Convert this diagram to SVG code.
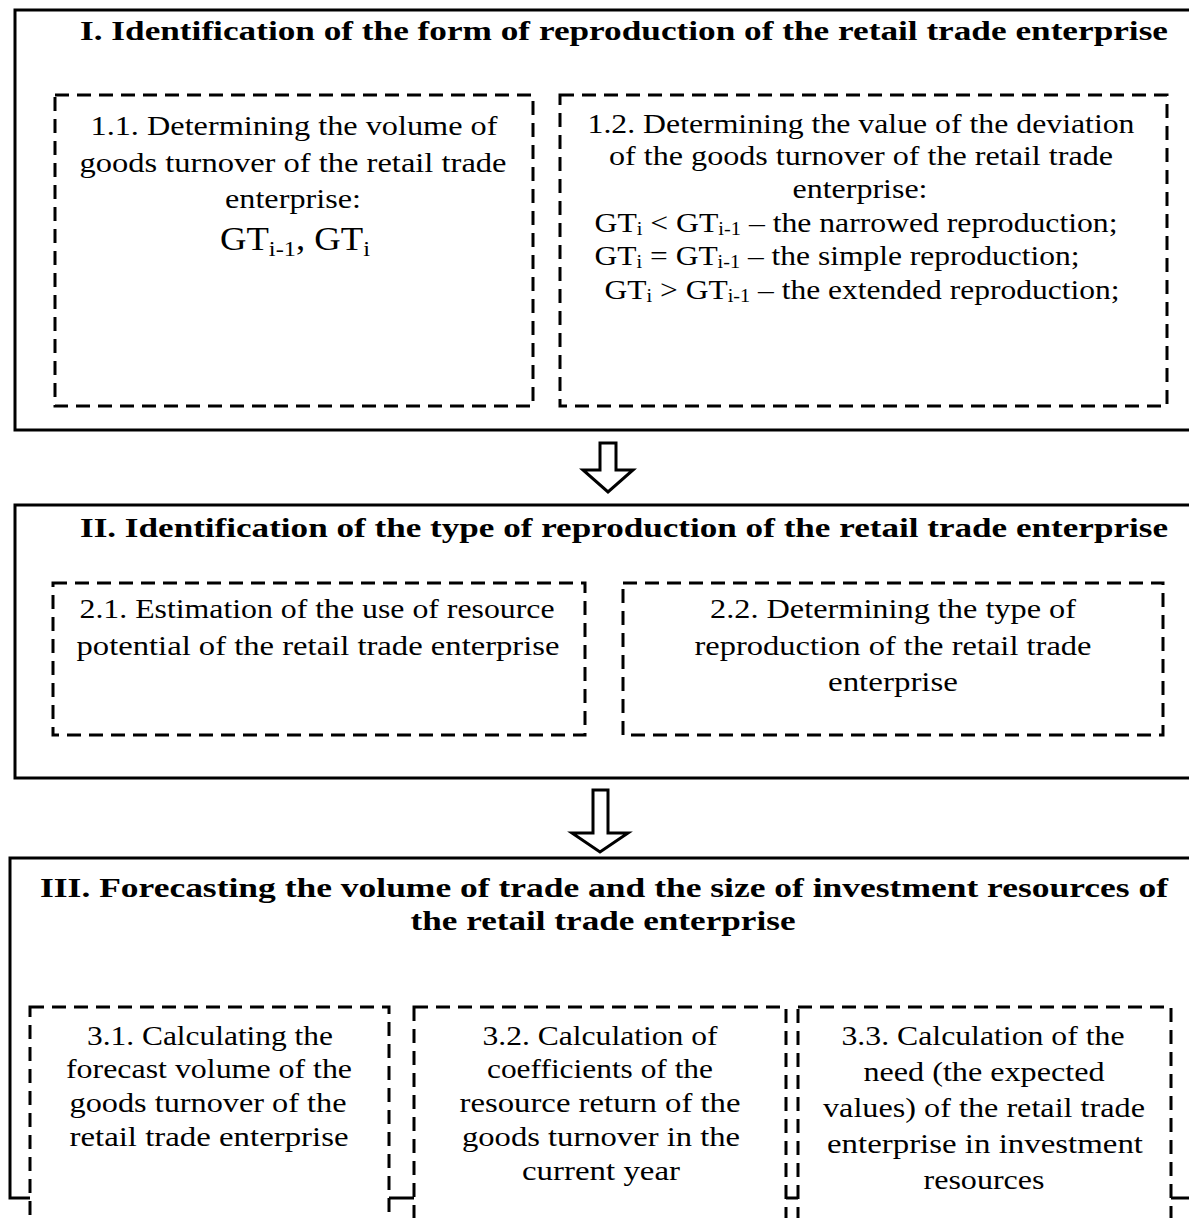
<svg xmlns="http://www.w3.org/2000/svg" width="1189" height="1218" viewBox="0 0 1189 1218">
<style>
.outer{fill:#fff;stroke:#000;stroke-width:3}
.dash{fill:#fff;stroke:#000;stroke-width:3;stroke-dasharray:14 8}
.t{font-family:"Liberation Serif","Times New Roman",serif;font-size:28px;fill:#000;text-anchor:middle}
.h{font-family:"Liberation Serif","Times New Roman",serif;font-size:28px;font-weight:bold;fill:#000}
.arr{fill:#fff;stroke:#000;stroke-width:3;stroke-linejoin:miter}
.sub{font-size:18px}
</style>
<rect width="1189" height="1218" fill="#fff"/>

<g id="stage1">
<rect class="outer" x="15" y="10" width="1190" height="420"/>
<text class="h" x="80" y="40" textLength="1088" lengthAdjust="spacingAndGlyphs">I. Identification  of the form  of reproduction  of the retail trade enterprise</text>
</g>
<g id="node11">
<rect class="dash" x="55" y="95" width="478" height="311"/>
<text class="t" x="294" y="135" textLength="407" lengthAdjust="spacingAndGlyphs">1.1. Determining the volume of</text>
<text class="t" x="293" y="172" textLength="427" lengthAdjust="spacingAndGlyphs">goods turnover of the retail trade</text>
<text class="t" x="293" y="208" textLength="136" lengthAdjust="spacingAndGlyphs">enterprise:</text>
<text class="t" x="295" y="250" style="font-size:33px" textLength="150" lengthAdjust="spacingAndGlyphs">GT<tspan style="font-size:22px" dy="6">i-1</tspan><tspan dy="-6">, GT</tspan><tspan style="font-size:22px" dy="6">i</tspan></text>
</g>
<g id="node12">
<rect class="dash" x="560" y="95" width="607" height="311"/>
<text class="t" x="861" y="133" textLength="547" lengthAdjust="spacingAndGlyphs">1.2. Determining the value of the deviation</text>
<text class="t" x="861" y="165" textLength="504" lengthAdjust="spacingAndGlyphs">of the goods turnover of the retail trade</text>
<text class="t" x="860" y="198" textLength="135" lengthAdjust="spacingAndGlyphs">enterprise:</text>
<text class="t" x="856" y="232" textLength="523" lengthAdjust="spacingAndGlyphs">GT<tspan class="sub" dy="3">i</tspan><tspan dy="-3"> &lt; GT</tspan><tspan class="sub" dy="3">i-1</tspan><tspan dy="-3"> – the narrowed reproduction;</tspan></text>
<text class="t" x="837" y="265" textLength="485" lengthAdjust="spacingAndGlyphs">GT<tspan class="sub" dy="3">i</tspan><tspan dy="-3"> = GT</tspan><tspan class="sub" dy="3">i-1</tspan><tspan dy="-3"> – the simple reproduction;</tspan></text>
<text class="t" x="862" y="299" textLength="515" lengthAdjust="spacingAndGlyphs">GT<tspan class="sub" dy="3">i</tspan><tspan dy="-3"> &gt; GT</tspan><tspan class="sub" dy="3">i-1</tspan><tspan dy="-3"> – the extended reproduction;</tspan></text>
</g>

<g id="stage2">
<rect class="outer" x="15" y="505" width="1190" height="273"/>
<text class="h" x="80" y="537" textLength="1088" lengthAdjust="spacingAndGlyphs">II. Identification  of the type of reproduction  of the retail trade enterprise</text>
</g>
<g id="node21">
<rect class="dash" x="53" y="583" width="532" height="152"/>
<text class="t" x="317" y="618" textLength="475" lengthAdjust="spacingAndGlyphs">2.1. Estimation of the use of resource</text>
<text class="t" x="318" y="655" textLength="483" lengthAdjust="spacingAndGlyphs">potential of the retail trade enterprise</text>
</g>
<g id="node22">
<rect class="dash" x="623" y="583" width="540" height="152"/>
<text class="t" x="893" y="618" textLength="366" lengthAdjust="spacingAndGlyphs">2.2. Determining the type of</text>
<text class="t" x="893" y="655" textLength="397" lengthAdjust="spacingAndGlyphs">reproduction  of the retail trade</text>
<text class="t" x="893" y="691" textLength="130" lengthAdjust="spacingAndGlyphs">enterprise</text>
</g>

<g id="stage3">
<rect class="outer" x="10" y="858" width="1195" height="340"/>
<text class="h" x="40" y="897" textLength="1128" lengthAdjust="spacingAndGlyphs">III. Forecasting  the volume of trade and the size of investment  resources  of</text>
<text class="h" x="603" y="930" text-anchor="middle" textLength="385" lengthAdjust="spacingAndGlyphs">the retail trade enterprise</text>
</g>
<g id="node31">
<rect class="dash" x="30" y="1007" width="359" height="240"/>
<text class="t" x="210" y="1045" textLength="246" lengthAdjust="spacingAndGlyphs">3.1. Calculating the</text>
<text class="t" x="209" y="1078" textLength="286" lengthAdjust="spacingAndGlyphs">forecast volume of the</text>
<text class="t" x="208" y="1112" textLength="277" lengthAdjust="spacingAndGlyphs">goods turnover of the</text>
<text class="t" x="209" y="1146" textLength="279" lengthAdjust="spacingAndGlyphs">retail trade enterprise</text>
</g>
<g id="node32">
<rect class="dash" x="414" y="1007" width="372" height="240"/>
<text class="t" x="600" y="1045" textLength="235" lengthAdjust="spacingAndGlyphs">3.2. Calculation of</text>
<text class="t" x="600" y="1078" textLength="226" lengthAdjust="spacingAndGlyphs">coefficients of the</text>
<text class="t" x="600" y="1112" textLength="281" lengthAdjust="spacingAndGlyphs">resource return of the</text>
<text class="t" x="601" y="1146" textLength="278" lengthAdjust="spacingAndGlyphs">goods turnover in the</text>
<text class="t" x="601" y="1180" textLength="158" lengthAdjust="spacingAndGlyphs">current year</text>
</g>
<g id="node33">
<rect class="dash" x="798" y="1007" width="373" height="240"/>
<text class="t" x="983" y="1045" textLength="283" lengthAdjust="spacingAndGlyphs">3.3. Calculation of the</text>
<text class="t" x="984" y="1081" textLength="241" lengthAdjust="spacingAndGlyphs">need (the expected</text>
<text class="t" x="984" y="1117" textLength="322" lengthAdjust="spacingAndGlyphs">values) of the retail trade</text>
<text class="t" x="985" y="1153" textLength="316" lengthAdjust="spacingAndGlyphs">enterprise in investment</text>
<text class="t" x="984" y="1189" textLength="121" lengthAdjust="spacingAndGlyphs">resources</text>
</g>

<g id="connectors">
<path class="arr" d="M600,443 H616 V470 H633 L608,492 L583,470 H600 Z"/>
<path class="arr" d="M593,790 H608 V833 H628 L600,852 L572,833 H593 Z"/>
</g>
</svg>
